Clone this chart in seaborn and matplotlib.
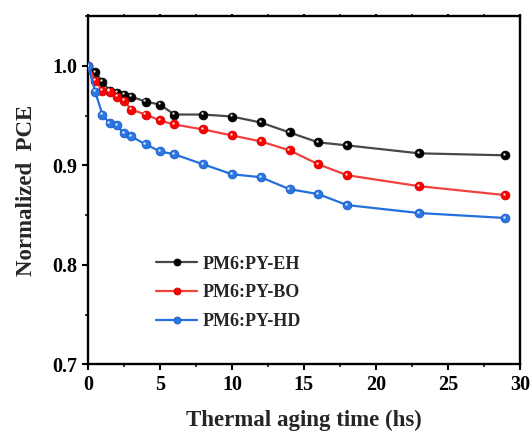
import matplotlib
matplotlib.use("Agg")
import matplotlib.pyplot as plt
import matplotlib.transforms as mtransforms
from matplotlib.ticker import MultipleLocator
import seaborn as sns
import pandas as pd

time_h = [0, 0.5, 1, 1.5, 2, 2.5, 3, 4, 5, 6, 8, 10, 12, 14, 16, 18, 23, 29]
pce_eh = [1.0, 0.994, 0.984, 0.975, 0.973, 0.971, 0.969, 0.964, 0.961, 0.951, 0.951, 0.949, 0.943, 0.933, 0.923, 0.920, 0.912, 0.910]
pce_bo = [1.0, 0.985, 0.975, 0.974, 0.969, 0.965, 0.956, 0.951, 0.945, 0.941, 0.936, 0.930, 0.924, 0.915, 0.901, 0.890, 0.879, 0.870]
pce_hd = [1.0, 0.974, 0.951, 0.942, 0.940, 0.932, 0.929, 0.921, 0.914, 0.911, 0.901, 0.891, 0.888, 0.876, 0.871, 0.860, 0.852, 0.847]
labels = ["PM6:PY-EH", "PM6:PY-BO", "PM6:PY-HD"]

sns.set_theme(style="ticks")
plt.rcParams['font.family'] = ['Liberation Serif', 'DejaVu Serif']
plt.rcParams['font.weight'] = 'bold'

fig = plt.figure(figsize=(5.31, 4.33), dpi=100)
ax = fig.add_axes([0.1657, 0.1587, 0.979 - 0.1657, 0.963 - 0.1587])

series = [pce_eh, pce_bo, pce_hd]
line_colors = ["#484848", "#f2403f", "#2270dd"]
marker_colors = ["#000000", "#ff0000", "#2a78e4"]
edge_colors = ["#000000", "#d00000", "#1a5cc0"]

hl = mtransforms.offset_copy(ax.transData, fig=fig, x=-1.2, y=1.2, units='dots')
for vals, lab, lc, mc, ec in zip(series, labels, line_colors, marker_colors, edge_colors):
    df = pd.DataFrame({"t": time_h, "v": vals})
    sns.lineplot(data=df, x="t", y="v", ax=ax, color=lc, linewidth=1.6,
                 marker="o", markersize=6.3, markerfacecolor=mc,
                 markeredgecolor=ec, markeredgewidth=0.6, label=lab, zorder=3)
    sns.scatterplot(data=df, x="t", y="v", ax=ax, color="white", s=3,
                    linewidth=0, alpha=0.85, transform=hl, zorder=4, legend=False)

ax.set_xlim(0, 30)
ax.set_ylim(0.7, 1.05)
ax.xaxis.set_major_locator(MultipleLocator(5))
ax.xaxis.set_minor_locator(MultipleLocator(2.5))
ax.yaxis.set_major_locator(MultipleLocator(0.1))
ax.yaxis.set_minor_locator(MultipleLocator(0.05))
ax.set_yticks([0.7, 0.8, 0.9, 1.0])
ax.set_yticklabels(["0.7", "0.8", "0.9", "1.0"])

for s in ax.spines.values():
    s.set_linewidth(1.7)
    s.set_color("black")
ax.tick_params(axis='both', which='major', direction='out', length=4.5, width=1.5,
               labelsize=14.5, colors='black', pad=3)
ax.tick_params(axis='both', which='minor', direction='out', length=2.5, width=1.3)
ax.tick_params(axis='x', which='both', top=True)
for t in ax.xaxis.get_ticklines(minor=False)[1::2] + ax.xaxis.get_ticklines(minor=True)[1::2]:
    t.set_markersize(1.5)
    t.set_color('#888888')
for lbl in ax.get_xticklabels() + ax.get_yticklabels():
    lbl.set_fontweight('bold')

ax.set_xlabel("Thermal aging time (hs)", fontsize=16.5, fontweight='bold', labelpad=11)
ax.set_ylabel("Normalized  PCE", fontsize=16.5, fontweight='bold', labelpad=11)

leg = ax.legend(loc='center left', bbox_to_anchor=(0.157, 0.205), frameon=False,
                borderaxespad=0, borderpad=0, handlelength=2.3, handletextpad=0.3,
                labelspacing=0.65, prop={'family': 'Liberation Serif', 'weight': 'bold', 'size': 13})
for h in leg.legend_handles:
    h.set_markersize(5)

fig.savefig("out.png", dpi=100)
